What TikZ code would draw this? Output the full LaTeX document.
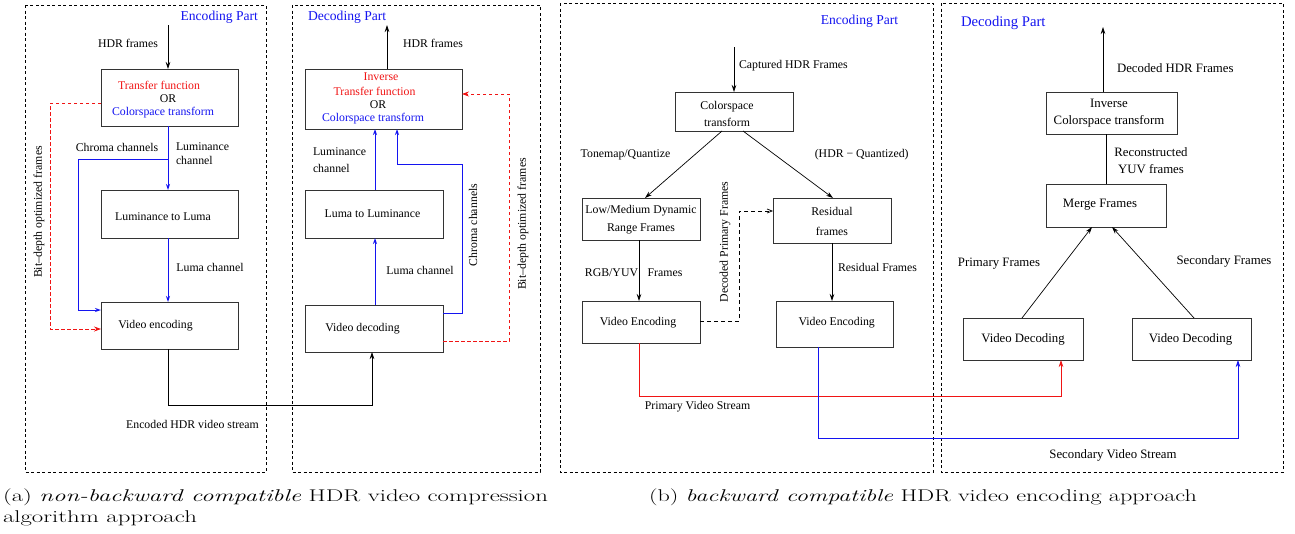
\documentclass[tikz,border=0pt]{standalone}
\usepackage{fontspec}
\usepackage{graphicx}
\newfontfamily\tms{Liberation Serif}
\usetikzlibrary{arrows.meta}
\definecolor{myblue}{RGB}{20,20,240}
\definecolor{myred}{RGB}{240,20,20}
\begin{document}
\begin{tikzpicture}[x=1pt,y=-1pt,
  every node/.style={inner sep=0pt,outer sep=0pt},
  txt/.style={font=\tms\fontsize{11.8}{14}\selectfont},
  txtb/.style={font=\tms\fontsize{12.8}{17}\selectfont},
  part/.style={font=\tms\fontsize{13.6}{16}\selectfont,text=myblue},
  blk/.style={draw=black!80,line width=0.9pt,rectangle},
  frame/.style={draw=black,line width=0.7pt,dash pattern=on 3pt off 2.5pt},
  conn/.style={line width=0.7pt},
  arr/.style={conn,-{Stealth[length=7pt,width=4.5pt]}},
  barr/.style={conn,draw=myblue,-{Stealth[length=6pt,width=4pt,open]}},
  rarr/.style={conn,draw=myred,dash pattern=on 3.5pt off 2.5pt,-{Stealth[length=7pt,width=5pt,fill=myred]}},
  captxt/.style={font=\fontsize{17}{21}\selectfont,anchor=base west}
]
\useasboundingbox (0,0) rectangle (1295,533);
% frames
\draw[frame] (25,5) rectangle (266,472);
\draw[frame] (292,5) rectangle (540,472);
\draw[frame] (560,3) rectangle (933,472);
\draw[frame] (941,3) rectangle (1283,472);

% ---------------- panel (a) encoder
\node[blk,minimum width=137pt,minimum height=57pt] (b1) at (169.5,97.5) {};
\node[blk,minimum width=137pt,minimum height=48pt] (b2) at (169.5,214) {};
\node[blk,minimum width=137pt,minimum height=47pt] (b3) at (169.5,325.5) {};
% decoder
\node[blk,minimum width=157pt,minimum height=60pt] (b4) at (383.5,99) {};
\node[blk,minimum width=138pt,minimum height=48pt] (b5) at (374,214) {};
\node[blk,minimum width=138pt,minimum height=47pt] (b6) at (374,328.5) {};

\node[part,anchor=east] (encA) at (258,17) {Encoding Part};
\node[txt] (hdrA) at (128,43) {HDR frames};
\node[txt,text=myred] (tfA) at (159,85) {Transfer function};
\node[txt] (orA) at (168,99) {OR};
\node[txt,text=myblue] (csA) at (163,113) {Colorspace transform};
\node[txt] (l2l) at (163,217) {Luminance to Luma};
\node[txt] (chA) at (117,147) {Chroma channels};
\node[txt,align=left,anchor=west] (lumA) at (176,154) {Luminance\\channel};
\node[txt] (veA) at (155.5,326) {Video encoding};
\node[txt] (lcA) at (210,267) {Luma channel};
\node[txt,rotate=90] (bdA) at (39,212) {Bit–depth optimized frames};
\node[txt] (encS) at (192.5,424) {Encoded HDR video stream};

\node[part,anchor=west] (decA) at (308,17) {Decoding Part};
\node[txt] (hdrB) at (433,43) {HDR frames};
\node[txt,text=myred] (invB) at (381,77) {Inverse};
\node[txt,text=myred] (tfB) at (374.5,91) {Transfer function};
\node[txt] (orB) at (378,105) {OR};
\node[txt,text=myblue] (csB) at (373,119) {Colorspace transform};
\node[txt] (l2lB) at (372.5,214) {Luma to Luminance};
\node[txt,align=left,anchor=west,font=\tms\fontsize{11.8}{17}\selectfont] (lumB) at (313,160.5) {Luminance\\channel};
\node[txt] (vdB) at (362.5,329) {Video decoding};
\node[txt] (lcB) at (420,270) {Luma channel};
\node[txt,rotate=90] (chB) at (473,225) {Chroma channels};
\node[txt,rotate=90] (bdB) at (523,224) {Bit–depth optimized frames};

\coordinate (ainA) at (168,25);
\coordinate (aoutB) at (387,25);
\draw[arr] (ainA) -- ([xshift=-1.5pt]b1.north);
\draw[barr] ([xshift=-1.5pt]b1.south) -- ([xshift=-1.5pt]b2.north);
\draw[barr] ([xshift=-1.5pt,yshift=-33pt]b1.south) -- ++(-90,0) |- ([yshift=15.5pt]b3.west);
\draw[barr] ([xshift=-1.5pt]b2.south) -- ([xshift=-1.5pt]b3.north);
\draw[rarr] ([yshift=-5.5pt]b1.west) -- ++(-51,0) |- ([yshift=-3.5pt]b3.west);
\draw[arr] ([xshift=-1.5pt]b3.south) -- ++(0,56) -| ([xshift=-2pt]b6.south);
\draw[arr] ([xshift=3.5pt]b4.north) -- (aoutB);
\draw[barr] ([xshift=1pt]b6.north) -- ([xshift=1pt]b5.south);
\draw[barr] ([xshift=1pt]b5.north) -- ([xshift=-8.5pt]b4.south);
\draw[barr] ([yshift=15.5pt]b6.east) -- ++(19,0) -- ++(0,-149) -| ([xshift=13.5pt]b4.south);
\draw[rarr] ([yshift=-12.5pt]b6.east) -- ++(66,0) |- ([yshift=5pt]b4.east);

% ---------------- panel (b) encoder
\node[blk,minimum width=118pt,minimum height=39pt] (c1) at (734,111.5) {};
\node[blk,minimum width=118pt,minimum height=42pt] (c2) at (641,219) {};
\node[blk,minimum width=118pt,minimum height=45pt] (c3) at (832,220.5) {};
\node[blk,minimum width=118pt,minimum height=42pt] (c4) at (641,322) {};
\node[blk,minimum width=117pt,minimum height=46pt] (c5) at (834.5,324) {};
% decoder
\node[blk,minimum width=131pt,minimum height=42pt] (d1) at (1111.5,113) {};
\node[blk,minimum width=120pt,minimum height=43pt] (d2) at (1106,205.5) {};
\node[blk,minimum width=120pt,minimum height=42pt] (d3) at (1023,339) {};
\node[blk,minimum width=119pt,minimum height=42pt] (d4) at (1191.5,339) {};

\node[part] (encC) at (859.5,21) {Encoding Part};
\node[txt,anchor=west] (capt) at (739,66) {Captured HDR Frames};
\node[txt,align=center,font=\tms\fontsize{11.8}{17}\selectfont] (cst) at (727,113.5) {Colorspace\\transform};
\node[txt] (tone) at (625.5,155) {Tonemap/Quantize};
\node[txt] (hq) at (861.7,155) {(HDR − Quantized)};
\node[txt,align=center,font=\tms\fontsize{11.8}{18}\selectfont] (lmd) at (641,220) {Low/Medium Dynamic\\Range Frames};
\node[txt,align=center,font=\tms\fontsize{11.8}{20}\selectfont] (res) at (832,221) {Residual\\frames};
\node[txt] (rgb) at (611.5,273) {RGB/YUV};
\node[txt] (rgbf) at (665,273) {Frames};
\node[txt,anchor=west] (resf) at (838,267) {Residual Frames};
\node[txt,rotate=90] (dpf) at (725,242) {Decoded Primary Frames};
\node[txt] (ve1) at (638,323) {Video Encoding};
\node[txt] (ve2) at (836.7,323) {Video Encoding};
\node[txt] (pvs) at (697.5,407) {Primary Video Stream};
\node[txtb] (svs) at (1113,455) {Secondary Video Stream};

\node[part,anchor=west,font=\tms\fontsize{14.7}{17}\selectfont] (decD) at (961,23) {Decoding Part};
\node[txtb,anchor=west] (dhf) at (1117,68) {Decoded HDR Frames};
\node[txtb,align=center] (ict) at (1109,113.5) {Inverse\\Colorspace transform};
\node[txtb,align=center] (rec) at (1151,160.5) {Reconstructed\\YUV frames};
\node[txtb] (mf) at (1100,205) {Merge Frames};
\node[txtb] (pf) at (999,264) {Primary Frames};
\node[txtb] (sf) at (1224,261) {Secondary Frames};
\node[txtb] (vd1) at (1023,339) {Video Decoding};
\node[txtb] (vd2) at (1190.5,339) {Video Decoding};

\coordinate (cin) at (734,47);
\coordinate (dout) at (1103,27);
\draw[arr] (cin) -- (c1.north);
\draw[arr] ([xshift=-12pt]c1.south) -- ([xshift=4pt]c2.north);
\draw[arr] ([xshift=9pt]c1.south) -- ([xshift=1pt]c3.north);
\draw[arr] ([xshift=-2pt]c2.south) -- ([xshift=-2pt]c4.north);
\draw[arr] (c3.south) -- ([xshift=-2.5pt]c5.north);
\draw[conn,dash pattern=on 4pt off 3pt,-{Straight Barb[length=5pt,width=4pt]}] ([yshift=1pt]c4.east) -- ++(39,0) |- ([yshift=9.5pt]c3.west);
\draw[conn,draw=myred,-{Stealth[length=7pt,width=4.5pt]}] ([xshift=-2pt]c4.south) -- ++(0,53) -| ([xshift=38pt]d3.south);
\draw[conn,draw=myblue,-{Stealth[length=7pt,width=4.5pt]}] ([xshift=-16.5pt]c5.south) -- ++(0,91) -| ([xshift=46.5pt]d4.south);
\draw[arr] ([xshift=-1pt]d3.north) -- ([xshift=-14pt]d2.south);
\draw[arr] ([xshift=2.5pt]d4.north) -- ([xshift=6pt]d2.south);
\draw[conn] (d2.north) -- ([xshift=-5.5pt]d1.south);
\draw[arr] ([xshift=-8.5pt]d1.north) -- (dout);

% captions
\node[captxt] (capa1) at (3,501) {\scalebox{1.46}[1]{(a) \textit{non-backward compatible} HDR video compression}};
\node[captxt] (capa2) at (3,522) {\scalebox{1.46}[1]{algorithm approach}};
\node[captxt] (capb) at (649,501) {\scalebox{1.42}[1]{(b) \textit{backward compatible} HDR video encoding approach}};
\end{tikzpicture}
\end{document}
